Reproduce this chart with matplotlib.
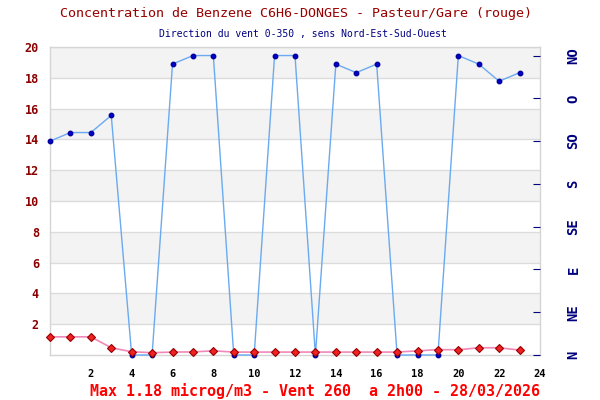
import matplotlib
matplotlib.use("Agg")
import matplotlib.pyplot as plt

hours = list(range(24))
benzene = [1.18, 1.18, 1.18, 0.47, 0.21, 0.15, 0.19, 0.2, 0.27, 0.19, 0.19, 0.19,
           0.19, 0.19, 0.19, 0.19, 0.19, 0.19, 0.27, 0.35, 0.34, 0.47, 0.47, 0.32]
wind = [250, 260, 260, 280, 0, 0, 340, 350, 350, 0, 0, 350,
        350, 0, 340, 330, 340, 0, 0, 0, 350, 340, 320, 330]
yticks = [2, 4, 6, 8, 10, 12, 14, 16, 18, 20]
xticks = [2, 4, 6, 8, 10, 12, 14, 16, 18, 20, 22, 24]
dir_pos = [0, 50, 100, 150, 200, 250, 300, 350]
dir_labels = ["N", "NE", "E", "SE", "S", "SO", "O", "NO"]

title = "Concentration de Benzene C6H6-DONGES - Pasteur/Gare (rouge)"
subtitle = "Direction du vent 0-350 , sens Nord-Est-Sud-Ouest"
footer = "Max 1.18 microg/m3 - Vent 260  a 2h00 - 28/03/2026"

mono = "DejaVu Sans Mono"
fig = plt.figure(figsize=(6, 4), dpi=100)
ax = fig.add_axes([50/600, 45/400, 490/600, 308/400])
ax.set_xlim(0, 24)
ax.set_ylim(0, 20)

# alternating bands
for lo in range(0, 20, 2):
    if (lo // 2) % 2 == 1:
        ax.axhspan(lo, lo + 2, color="#f3f3f3", zorder=0, lw=0)
for y in yticks:
    ax.axhline(y, color="#dcdcdc", lw=1, zorder=0.5)

for s in ax.spines.values():
    s.set_color("#d5d5d5")
    s.set_linewidth(1)

ax.set_yticks(yticks)
ax.set_yticklabels([str(v) for v in yticks], color="#8b0000", fontsize=8.5,
                   fontweight="bold", family=mono)
ax.set_xticks(xticks)
ax.set_xticklabels([str(v) for v in xticks], color="black", fontsize=7.5,
                   fontweight="bold", family=mono)
ax.tick_params(axis="y", length=0, pad=8)
ax.tick_params(axis="x", length=0, pad=10)

ax2 = ax.twinx()
ax2.set_ylim(0, 360)
ax2.set_yticks(dir_pos)
ax2.set_yticklabels(dir_labels, rotation=90, va="center", color="#000080",
                    fontsize=10, fontweight="bold", family=mono)
ax2.tick_params(axis="y", direction="in", length=5, color="#000080", pad=19)
for s in ax2.spines.values():
    s.set_visible(False)

ax2.plot(hours, wind, color="#6aaaf0", lw=1, marker="o", markersize=3.2,
         markerfacecolor="#0000c8", markeredgecolor="#0000a0", zorder=2,
         clip_on=False)

ax3 = ax.twinx()
ax3.set_ylim(0, 20)
ax3.axis("off")
ax3.plot(hours, benzene, color="#f088b8", lw=1.2, marker="D", markersize=4.3,
         markerfacecolor="#ee2222", markeredgecolor="#990000",
         markeredgewidth=0.8, zorder=3, clip_on=False)

fig.text(296/600, 1 - 14/400, title, ha="center", va="center", color="#990000",
         fontsize=9.6, family=mono)
fig.text(303/600, 1 - 34/400, subtitle, ha="center", va="center",
         color="#000080", fontsize=7, family=mono)
fig.text(315/600, 1 - 391/400, footer, ha="center", va="center",
         color="#ff0000", fontsize=10.8, fontweight="semibold", family=mono)

fig.savefig("out.png", dpi=100)
